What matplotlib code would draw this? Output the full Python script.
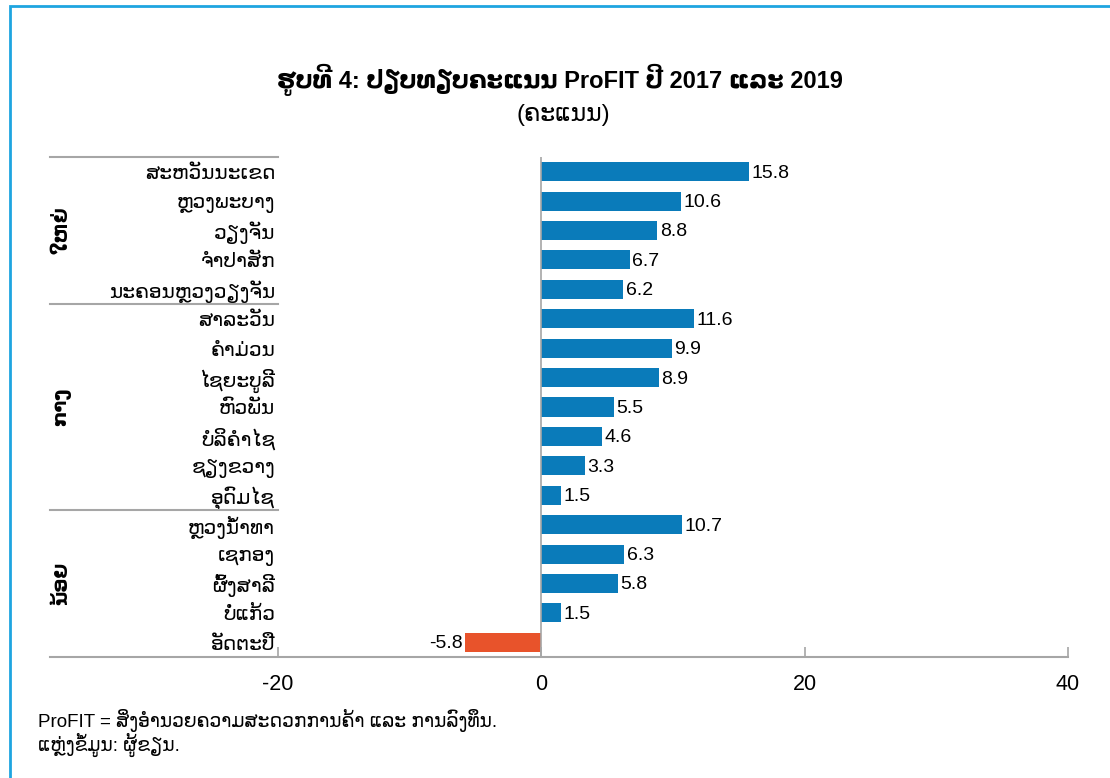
import matplotlib
matplotlib.use("Agg")
import matplotlib.pyplot as plt
from matplotlib.patches import Rectangle
from matplotlib.lines import Line2D
import matplotlib.transforms as mtransforms

plt.rcParams['font.family'] = ['Liberation Sans', 'DejaVu Sans']

# data
provinces = ['ສະຫວັນນະເຂດ', 'ຫຼວງພະບາງ', 'ວຽງຈັນ', 'ຈຳປາສັກ', 'ນະຄອນຫຼວງວຽງຈັນ',
             'ສາລະວັນ', 'ຄຳມ່ວນ', 'ໄຊຍະບູລີ', 'ຫົວພັນ', 'ບໍລິຄຳໄຊ', 'ຊຽງຂວາງ', 'ອຸດົມໄຊ',
             'ຫຼວງນ້ຳທາ', 'ເຊກອງ', 'ຜົ້ງສາລີ', 'ບໍ່ແກ້ວ', 'ອັດຕະປື']
scores = [15.8, 10.6, 8.8, 6.7, 6.2,
          11.6, 9.9, 8.9, 5.5, 4.6, 3.3, 1.5,
          10.7, 6.3, 5.8, 1.5, -5.8]
groups = ['ໃຫຍ່', 'ກາງ', 'ນ້ອຍ']
group_sizes = [5, 7, 5]
xticks = [-20, 0, 20, 40]

title = 'ຮູບທີ 4: ປຽບທຽບຄະແນນ ProFIT ປີ 2017 ແລະ 2019'
subtitle = '(ຄະແນນ)'
note1 = 'ProFIT = ສິ່ງອຳນວຍຄວາມສະດວກການຄ້າ ແລະ ການລົງທຶນ.'
note2 = 'ແຫຼ່ງຂໍ້ມູນ: ຜູ້ຂຽນ.'

blue = '#0A7BBA'
red = '#E8532B'
gray = '#A6A6A6'

W, H = 1110, 778
fig = plt.figure(figsize=(W / 100, H / 100), dpi=100)

# outer blue frame
fig.add_artist(Rectangle((10 / W, -0.05), 1.2, (H - 6) / H + 0.05, transform=fig.transFigure,
                         fill=False, edgecolor='#1EA5E0', linewidth=2))

ax = fig.add_axes([278 / W, (H - 657) / H, (1068 - 278) / W, 500 / H])
n = len(provinces)
ypos = list(range(n))
colors = [blue if v >= 0 else red for v in scores]
ax.barh(ypos, scores, height=0.65, color=colors)
ax.set_ylim(n - 0.5, -0.5)
ax.set_xlim(-20, 40)

for y, v in zip(ypos, scores):
    if v >= 0:
        ax.text(v + 0.2, y + 0.05, f'{v:.1f}', va='center', ha='left', fontsize=14)
    else:
        ax.text(v - 0.2, y + 0.05, f'{v:.1f}', va='center', ha='right', fontsize=14)

for s in ax.spines.values():
    s.set_visible(False)
ax.axvline(0, color=gray, linewidth=1.2)

ax.set_yticks(ypos)
ax.set_yticklabels(provinces, fontsize=14.5, family=['DejaVu Sans'])
ax.tick_params(axis='y', length=0, pad=2)
ax.set_xticks(xticks)
ax.set_xticklabels([str(t) for t in xticks], fontsize=15.5)
ax.tick_params(axis='x', direction='in', length=7, color=gray, width=1.2, pad=12)

# multi-level category axis lines
tr = mtransforms.blended_transform_factory(fig.transFigure, ax.transData)
edges = [-0.5]
for g in group_sizes:
    edges.append(edges[-1] + g)
for e in edges[:-1]:
    fig.add_artist(Line2D([50 / W, 278 / W], [e, e], transform=tr, color=gray, linewidth=1.5))
fig.add_artist(Line2D([50 / W, 1068 / W], [edges[-1], edges[-1]], transform=tr,
                      color=gray, linewidth=1.5))

for g, a, b in zip(groups, edges[:-1], edges[1:]):
    fig.text(62 / W, (a + b) / 2, g, transform=tr, rotation=90, ha='center', va='center',
             fontsize=14, fontweight='bold', family=['DejaVu Sans'])

fig.text(560 / W, 1 - 80 / H, title, ha='center', va='center', fontsize=17, fontweight='bold')
fig.text(563 / W, 1 - 115 / H, subtitle, ha='center', va='center', fontsize=17)

fig.text(38 / W, 1 - 721 / H, note1, ha='left', va='center', fontsize=13.5)
fig.text(38 / W, 1 - 745 / H, note2, ha='left', va='center', fontsize=13.5)

fig.savefig('out.png', dpi=100)
